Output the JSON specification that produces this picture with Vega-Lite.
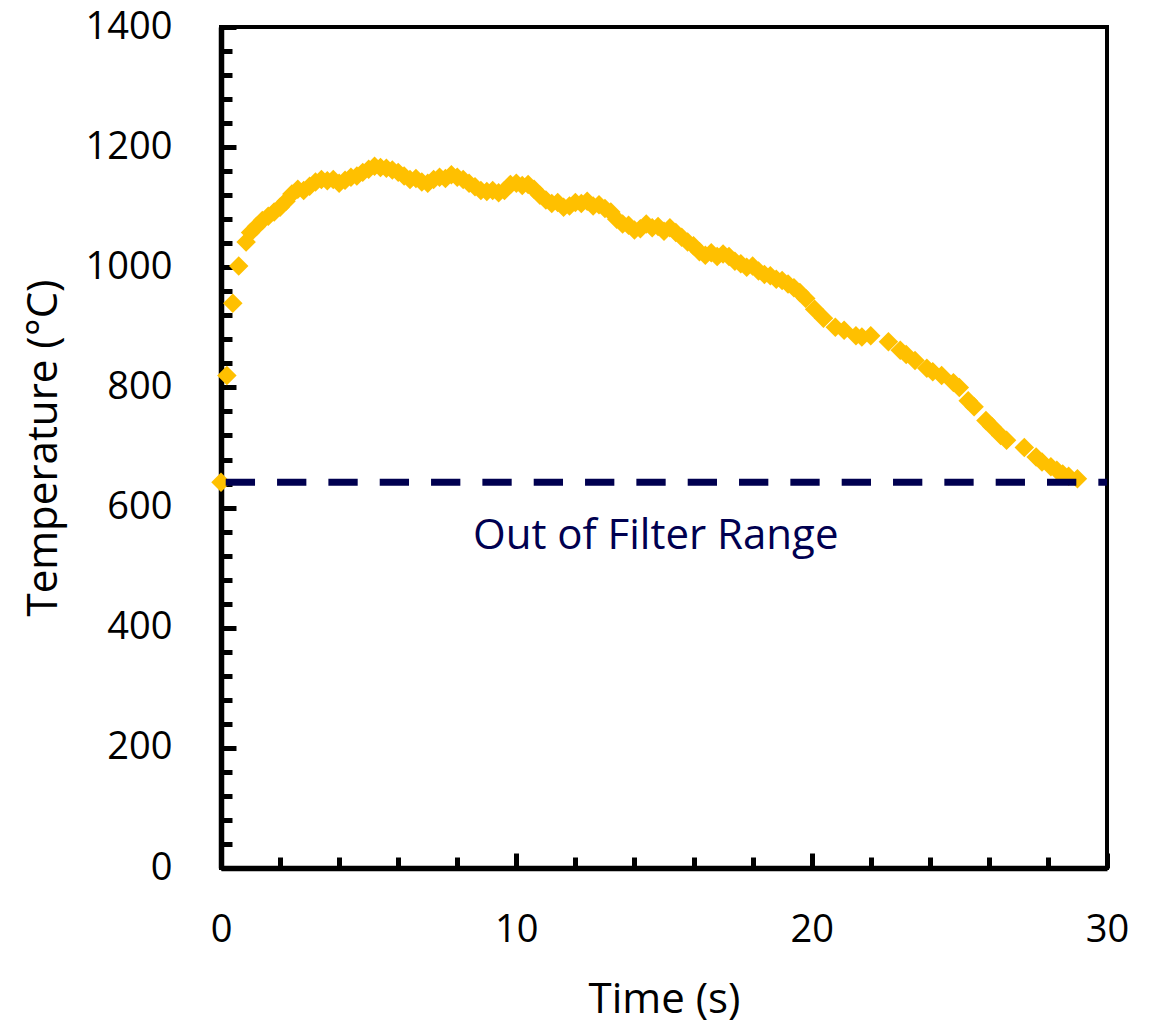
{
  "$schema": "https://vega.github.io/schema/vega-lite/v6.json",
  "width": 886,
  "height": 841,
  "autosize": {"type": "none"},
  "padding": {"left": 221, "top": 27, "right": 58, "bottom": 155},
  "config": {
    "font": "Open Sans",
    "view": {"stroke": "black", "strokeWidth": 4},
    "axis": {"labelOverlap": false}
  },
  "encoding": {
    "x": {
      "field": "t", "type": "quantitative",
      "scale": {"domain": [0, 30], "nice": false, "zero": false},
      "axis": {
        "title": "Time (s)",
        "titleFontSize": 42, "titleFontWeight": "normal", "titleColor": "black", "titlePadding": 26,
        "values": [0, 2, 4, 6, 8, 10, 12, 14, 16, 18, 20, 22, 24, 26, 28, 30],
        "format": "d",
        "labelExpr": "datum.value % 10 == 0 ? datum.label : ''",
        "labelFontSize": 38, "labelColor": "black", "labelPadding": 58, "labelFlush": false,
        "labelOverlap": false,
        "grid": false, "domainColor": "black", "domainWidth": 5.5,
        "tickColor": "black", "tickWidth": 5,
        "tickSize": {"condition": {"test": "datum.value % 10 == 0", "value": -15}, "value": -11}
      }
    },
    "y": {
      "field": "T", "type": "quantitative",
      "scale": {"domain": [0, 1400], "nice": false},
      "axis": {
        "title": "Temperature (°C)",
        "titleFontSize": 42, "titleFontWeight": "normal", "titleColor": "black", "titlePadding": 20,
        "values": [0, 40, 80, 120, 160, 200, 240, 280, 320, 360, 400, 440, 480, 520, 560, 600, 640, 680, 720, 760, 800, 840, 880, 920, 960, 1000, 1040, 1080, 1120, 1160, 1200, 1240, 1280, 1320, 1360, 1400],
        "format": "d",
        "labelExpr": "datum.value % 200 == 0 ? datum.label : ''",
        "labelFontSize": 38, "labelColor": "black", "labelPadding": 64, "labelFlush": false,
        "labelOverlap": false,
        "grid": false, "domainColor": "black", "domainWidth": 5.5,
        "tickColor": "black", "tickWidth": 5,
        "tickSize": {"condition": {"test": "datum.value % 200 == 0", "value": -15}, "value": -11}
      }
    }
  },
  "layer": [
    {
      "data": {"values": [
        {"t": 0, "T": 642}, {"t": 0.2, "T": 820}, {"t": 0.4, "T": 940}, {"t": 0.6, "T": 1002},
        {"t": 0.85, "T": 1042}, {"t": 1.0, "T": 1058}, {"t": 1.2, "T": 1068}, {"t": 1.4, "T": 1078},
        {"t": 1.6, "T": 1085}, {"t": 1.8, "T": 1092}, {"t": 2.0, "T": 1100}, {"t": 2.2, "T": 1110},
        {"t": 2.4, "T": 1122}, {"t": 2.6, "T": 1130}, {"t": 2.8, "T": 1128}, {"t": 3.0, "T": 1135},
        {"t": 3.2, "T": 1142}, {"t": 3.4, "T": 1146}, {"t": 3.6, "T": 1144}, {"t": 3.8, "T": 1146},
        {"t": 4.0, "T": 1140}, {"t": 4.2, "T": 1145}, {"t": 4.4, "T": 1150}, {"t": 4.6, "T": 1152},
        {"t": 4.8, "T": 1158}, {"t": 5.0, "T": 1163}, {"t": 5.2, "T": 1168}, {"t": 5.4, "T": 1166},
        {"t": 5.6, "T": 1165}, {"t": 5.8, "T": 1162}, {"t": 6.0, "T": 1158}, {"t": 6.2, "T": 1152},
        {"t": 6.4, "T": 1146}, {"t": 6.6, "T": 1148}, {"t": 6.8, "T": 1142}, {"t": 7.0, "T": 1140},
        {"t": 7.2, "T": 1146}, {"t": 7.4, "T": 1150}, {"t": 7.6, "T": 1148}, {"t": 7.8, "T": 1154},
        {"t": 8.0, "T": 1150}, {"t": 8.2, "T": 1146}, {"t": 8.4, "T": 1140}, {"t": 8.6, "T": 1134},
        {"t": 8.8, "T": 1128}, {"t": 9.0, "T": 1126}, {"t": 9.2, "T": 1128}, {"t": 9.4, "T": 1124},
        {"t": 9.6, "T": 1128}, {"t": 9.8, "T": 1138}, {"t": 10.0, "T": 1140}, {"t": 10.2, "T": 1136},
        {"t": 10.4, "T": 1138}, {"t": 10.6, "T": 1130}, {"t": 10.8, "T": 1120}, {"t": 11.0, "T": 1112},
        {"t": 11.2, "T": 1106}, {"t": 11.4, "T": 1108}, {"t": 11.6, "T": 1100}, {"t": 11.8, "T": 1102},
        {"t": 12.0, "T": 1108}, {"t": 12.2, "T": 1106}, {"t": 12.4, "T": 1110}, {"t": 12.6, "T": 1102},
        {"t": 12.8, "T": 1104}, {"t": 13.0, "T": 1098}, {"t": 13.2, "T": 1092}, {"t": 13.4, "T": 1080},
        {"t": 13.6, "T": 1072}, {"t": 13.8, "T": 1070}, {"t": 14.0, "T": 1062}, {"t": 14.2, "T": 1064},
        {"t": 14.4, "T": 1072}, {"t": 14.6, "T": 1066}, {"t": 14.8, "T": 1068}, {"t": 15.0, "T": 1060},
        {"t": 15.2, "T": 1066}, {"t": 15.4, "T": 1058}, {"t": 15.6, "T": 1050}, {"t": 15.8, "T": 1042},
        {"t": 16.0, "T": 1036}, {"t": 16.2, "T": 1026}, {"t": 16.4, "T": 1020}, {"t": 16.6, "T": 1024},
        {"t": 16.8, "T": 1018}, {"t": 17.0, "T": 1022}, {"t": 17.2, "T": 1018}, {"t": 17.4, "T": 1010},
        {"t": 17.6, "T": 1006}, {"t": 17.8, "T": 1000}, {"t": 18.0, "T": 1002}, {"t": 18.2, "T": 994},
        {"t": 18.4, "T": 988}, {"t": 18.6, "T": 986}, {"t": 18.8, "T": 980}, {"t": 19.0, "T": 978},
        {"t": 19.2, "T": 972}, {"t": 19.4, "T": 966}, {"t": 19.6, "T": 958}, {"t": 19.8, "T": 948},
        {"t": 20.1, "T": 930}, {"t": 20.4, "T": 915}, {"t": 20.8, "T": 900}, {"t": 21.1, "T": 895},
        {"t": 21.5, "T": 886}, {"t": 21.7, "T": 884}, {"t": 22.0, "T": 886}, {"t": 22.6, "T": 876},
        {"t": 23.0, "T": 862}, {"t": 23.2, "T": 855}, {"t": 23.5, "T": 845}, {"t": 23.9, "T": 832},
        {"t": 24.1, "T": 826}, {"t": 24.4, "T": 820}, {"t": 24.8, "T": 808}, {"t": 25.0, "T": 800},
        {"t": 25.3, "T": 778}, {"t": 25.5, "T": 768}, {"t": 25.9, "T": 745}, {"t": 26.1, "T": 735},
        {"t": 26.4, "T": 720}, {"t": 26.6, "T": 712}, {"t": 27.2, "T": 700}, {"t": 27.6, "T": 684},
        {"t": 27.8, "T": 676}, {"t": 28.1, "T": 668}, {"t": 28.3, "T": 662}, {"t": 28.5, "T": 656},
        {"t": 28.7, "T": 652}, {"t": 29.0, "T": 648}
      ]},
      "mark": {"type": "point", "shape": "diamond", "filled": true, "size": 380, "color": "#FFC000", "opacity": 1}
    },
    {
      "data": {"values": [{"t": 0, "t2": 30, "T": 642}]},
      "mark": {"type": "rule", "color": "#000050", "strokeWidth": 7, "strokeDash": [29.3, 22.03], "strokeDashOffset": 46.6, "strokeCap": "butt"},
      "encoding": {"x2": {"field": "t2"}}
    },
    {
      "data": {"values": [{"t": 14.72, "T": 552, "label": "Out of Filter Range"}]},
      "mark": {"type": "text", "fontSize": 42, "color": "#000050", "align": "center", "baseline": "middle"},
      "encoding": {"text": {"field": "label"}}
    }
  ]
}
